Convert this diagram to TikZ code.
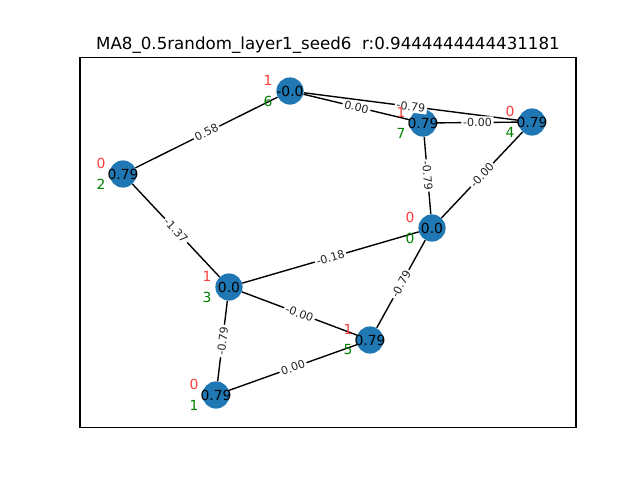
\documentclass[tikz,border=0pt]{standalone}
\usepackage{fontspec}
\setmainfont{DejaVu Sans}
\begin{document}
\definecolor{nodeblue}{HTML}{1F77B4}
\definecolor{ordred}{RGB}{255,60,60}
\definecolor{idgreen}{RGB}{0,128,0}
\begin{tikzpicture}[x=0.72pt,y=-0.72pt,
  vertex/.style={circle,fill=nodeblue,minimum size=27.2*0.72pt,inner sep=-4pt,
    font=\fontsize{10}{11}\selectfont,text=black},
  link/.style={line width=1pt,black},
  wlabel/.style={midway,sloped,fill=white,inner sep=1.3pt,
    font=\fontsize{8}{9}\selectfont,text=black!85},
  ordlab/.style={font=\fontsize{10}{12}\selectfont,text=ordred},
  idlab/.style={font=\fontsize{10}{12}\selectfont,text=idgreen}]
\useasboundingbox (0,0) rectangle (640,480);
% axes frame and title
\draw[line width=0.8pt] (80,57.6) rectangle (576,427.2);
\node[anchor=base,font=\fontsize{12}{14}\selectfont] (title) at (328,49.3)
  {MA8\_0.5random\_layer1\_seed6\ \ r:0.9444444444431181};
% vertices
\node[vertex] (n6) at (290,91) {-0.0};
\node[vertex] (n7) at (423,123) {0.79};
\node[vertex] (n4) at (532,122) {0.79};
\node[vertex] (n2) at (123,174) {0.79};
\node[vertex] (n0) at (432,228) {0.0};
\node[vertex] (n3) at (229,287) {0.0};
\node[vertex] (n5) at (370,340) {0.79};
\node[vertex] (n1) at (216,395) {0.79};
% weighted edges
\draw[link] (n6) -- node[wlabel] {0.58} (n2);
\draw[link] (n6) -- node[wlabel] {0.00} (n7);
\draw[link] (n6) -- node[wlabel] {-0.79} (n4);
\draw[link] (n7) -- node[wlabel] {-0.00} (n4);
\draw[link] (n7) -- node[wlabel] {-0.79} (n0);
\draw[link] (n4) -- node[wlabel] {-0.00} (n0);
\draw[link] (n2) -- node[wlabel] {-1.37} (n3);
\draw[link] (n3) -- node[wlabel] {-0.18} (n0);
\draw[link] (n3) -- node[wlabel] {-0.00} (n5);
\draw[link] (n3) -- node[wlabel] {-0.79} (n1);
\draw[link] (n0) -- node[wlabel] {-0.79} (n5);
\draw[link] (n5) -- node[wlabel] {0.00} (n1);
% order (red) and index (green) annotations
\foreach \v/\o/\i in {n6/1/6, n7/1/7, n4/0/4, n2/0/2, n0/0/0, n3/1/3, n5/1/5, n1/0/1}{
  \node[ordlab] (o\v) at ([shift={(-22,-11)}]\v.center) {\o};
  \node[idlab] (i\v) at ([shift={(-22,10)}]\v.center) {\i};
}
\end{tikzpicture}
\end{document}
